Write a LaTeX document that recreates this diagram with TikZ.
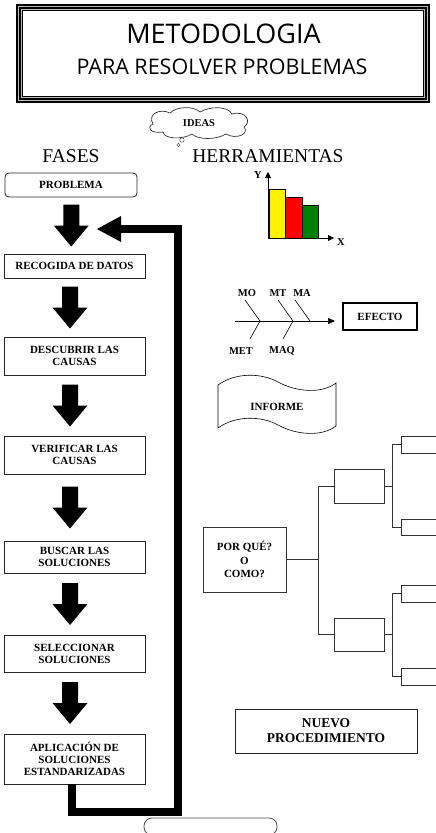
\documentclass[tikz,border=0pt]{standalone}
\usepackage{fontspec}
\setmainfont{Liberation Serif}
\newfontfamily\titlefont{Open Sans}
\usetikzlibrary{calc,arrows.meta}
\begin{document}
\begin{tikzpicture}[x=1pt,y=-1pt,
  lbl/.style={font=\bfseries\fontsize{11}{12}\selectfont, align=center, inner sep=0pt},
  stepbox/.style={draw=black!85, line width=0.8pt, lbl, minimum width=141pt},
  treebox/.style={draw=black!80, line width=0.8pt, lbl},
  treeline/.style={draw=black!80, line width=0.8pt},
  fishlbl/.style={font=\bfseries\fontsize{10.5}{11}\selectfont, inner sep=0pt},
  bigdown/.pic={\fill (-8,-21) -- (8,-21) -- (8,0) -- (17.5,0) -- (0,21) -- (-17.5,0) -- (-8,0) -- cycle;},
  loopline/.style={line width=8pt, line join=miter}
]
\useasboundingbox (0,0) rectangle (436,833);
\clip (0,0) rectangle (436,833);
% title frame
\fill[gray!55] (16,4) rectangle (430,103);
\fill[white] (23,11) rectangle (423,96);
\draw[line width=2pt] (17,5) rectangle (429,102);
\draw[line width=1.3pt] (19.9,7.9) rectangle (426.1,99.1);
\draw[line width=0.8pt] (22.6,10.6) rectangle (423.4,96.4);
\node[font=\titlefont\fontsize{27}{30}\selectfont, inner sep=0pt] (t1) at (223.5,34) {METODOLOGIA};
\node[font=\titlefont\fontsize{21.5}{24}\selectfont, inner sep=0pt] (t2) at (222,67) {PARA RESOLVER PROBLEMAS};
% ideas cloud
\draw[black!80, line width=0.7pt] (153,124) .. controls (147,114) and (160,108) .. (170,113)
  .. controls (177,106) and (194,106) .. (200,112)
  .. controls (210,106) and (228,106) .. (232,114)
  .. controls (246,110) and (252,122) .. (244,127)
  .. controls (250,134) and (236,140) .. (226,134)
  .. controls (216,140) and (198,140) .. (192,134)
  .. controls (182,140) and (164,139) .. (163,132)
  .. controls (150,134) and (146,127) .. (153,124) -- cycle;
\node[font=\bfseries\fontsize{10.5}{11}\selectfont, inner sep=0pt] (ideas) at (199,123) {IDEAS};
\draw[black!80] (182,140) circle (2.2);
\draw[black!80] (178.5,145) circle (1.6);
% headers
\node[font=\fontsize{19.5}{22}\selectfont, inner sep=0pt] (fases) at (71,156) {FASES};
\node[font=\fontsize{19.5}{22}\selectfont, inner sep=0pt] (herr) at (268,156) {HERRAMIENTAS};
% phases
\node[draw=black!85, line width=0.8pt, rounded corners=4pt, lbl, minimum width=132pt, minimum height=24pt] (prob) at (71,185) {PROBLEMA};
\node[stepbox, minimum height=24pt] (recog) at (74.5,266) {RECOGIDA DE DATOS};
\node[stepbox, minimum height=38pt] (desc) at (74.5,356) {DESCUBRIR LAS\\CAUSAS};
\node[stepbox, minimum height=38pt] (verif) at (74.5,455) {VERIFICAR LAS\\CAUSAS};
\node[stepbox, minimum height=32pt] (busc) at (74.5,557) {BUSCAR LAS\\SOLUCIONES};
\node[stepbox, minimum height=37pt] (selec) at (74.5,653.5) {SELECCIONAR\\SOLUCIONES};
\node[stepbox, minimum height=50pt] (aplic) at (74.5,759) {APLICACIÓN DE\\SOLUCIONES\\ESTANDARIZADAS};
% block arrows
\pic at ($(prob.south)!0.5!(recog.north)+(-1.5,0)$) {bigdown};
\pic at ($(recog.south)!0.5!(desc.north)+(-4.5,0)$) {bigdown};
\pic at ($(desc.south)!0.5!(verif.north)+(-4.5,0)$) {bigdown};
\pic at ($(verif.south)!0.5!(busc.north)+(-4.5,0)$) {bigdown};
\pic at ($(busc.south)!0.5!(selec.north)+(-4.5,0)$) {bigdown};
\pic at ($(selec.south)!0.5!(aplic.north)+(-4.5,0)$) {bigdown};
% feedback loop
\coordinate (ret) at (119,229);
\draw[loopline] ([xshift=-3pt]aplic.south) -- ++(0,28) -| (178,229) -- (ret);
\fill (ret) ++(2,-13) -- (97,229) -- (121,242) -- cycle;
% bar chart
\draw[line width=0.6pt, fill=yellow] (269,189) rectangle (285.5,238);
\draw[line width=0.6pt, fill=red] (285.5,197) rectangle (302,238);
\draw[line width=0.6pt, fill=green!50!black] (302,205) rectangle (318,238);
\coordinate (org) at (268,238);
\draw[line width=0.8pt, -{Triangle[length=6pt,width=6pt]}] (org) -- (268,172);
\draw[line width=0.8pt, -{Triangle[length=6pt,width=6pt]}] (org) -- (334,238);
\node[fishlbl] (ylab) at (258,175) {Y};
\node[fishlbl] (xlab) at (341,242) {X};
% fishbone
\node[draw, line width=1.1pt, lbl, minimum width=74pt, minimum height=27pt] (efecto) at (380,316.5) {EFECTO};
\coordinate (spine) at (235,321);
\draw[line width=0.6pt, -{Triangle[length=7pt,width=6pt]}] (spine) -- (335,321);
\draw[line width=0.6pt] (245,300) -- (260,321) -- (250,339);
\draw[line width=0.6pt] (278,300) -- (293,321) -- (283,339);
\draw[line width=0.6pt] (295,300) -- (310,321);
\node[fishlbl] (mo) at (247,293) {MO};
\node[fishlbl] (mt) at (278,293) {MT};
\node[fishlbl] (ma) at (302,293) {MA};
\node[fishlbl] (met) at (241,351) {MET};
\node[fishlbl] (maq) at (282,351) {MAQ};
% informe
\draw[line width=0.6pt] (218,385) .. controls (236,372) and (262,373) .. (278,382) .. controls (296,392) and (322,394) .. (336,383) -- (336,426) .. controls (322,437) and (296,435) .. (278,425) .. controls (262,416) and (236,415) .. (218,428) -- cycle;
\node[lbl] (informe) at (277,407) {INFORME};
% tree
\node[treebox, minimum width=83pt, minimum height=65pt, font=\bfseries\fontsize{11}{13.5}\selectfont] (por) at (244.5,559.5) {POR QUÉ?\\O\\COMO?};
\node[treebox, minimum width=50pt, minimum height=34pt] (b1) at (359,486) {};
\node[treebox, minimum width=50pt, minimum height=33pt] (b2) at (359,634.5) {};
\node[treebox, minimum width=60pt, minimum height=17pt] (s1) at (431,444.5) {};
\node[treebox, minimum width=60pt, minimum height=16pt] (s2) at (431,527) {};
\node[treebox, minimum width=60pt, minimum height=17pt] (s3) at (431,593.5) {};
\node[treebox, minimum width=60pt, minimum height=17pt] (s4) at (431,676.5) {};
\draw[treeline] (por.east) -- ++(32,0) coordinate (j0);
\draw[treeline] (j0) |- (b1.west);
\draw[treeline] (j0) |- (b2.west);
\draw[treeline] (b1.east) -- ++(8,0) coordinate (j1);
\draw[treeline] (j1) |- (s1.west);
\draw[treeline] (j1) |- (s2.west);
\draw[treeline] (b2.east) -- ++(8,0) coordinate (j2);
\draw[treeline] (j2) |- (s3.west);
\draw[treeline] (j2) |- (s4.west);
% nuevo procedimiento
\node[draw=black!85, line width=0.8pt, font=\bfseries\fontsize{13.5}{15}\selectfont, align=center, inner sep=0pt, minimum width=182pt, minimum height=44pt] (nuevo) at (326,731) {NUEVO\\PROCEDIMIENTO};
% bottom oval
\node[draw=black!70, line width=0.8pt, rounded corners=8pt, minimum width=133pt, minimum height=17pt, inner sep=0pt] (oval) at (210.5,826.5) {};
\end{tikzpicture}
\end{document}
